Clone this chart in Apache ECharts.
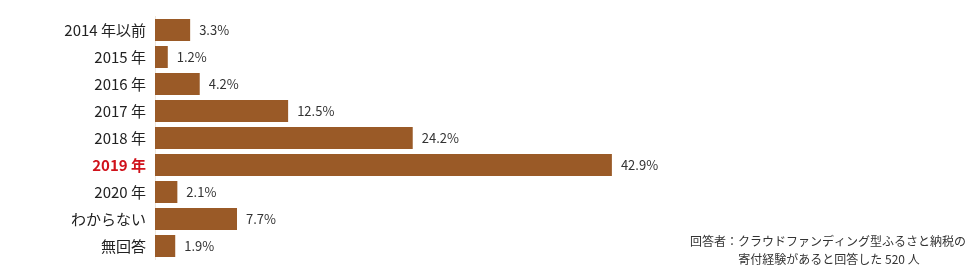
<!DOCTYPE html>
<html><head><meta charset="utf-8">
<script src="https://cdn.jsdelivr.net/npm/echarts@6/dist/echarts.min.js"></script>
<style>html,body{margin:0;padding:0;background:#fff}#c{width:980px;height:280px}</style>
</head><body><div id="c"></div>
<script>
const categories = ["2014 年以前","2015 年","2016 年","2017 年","2018 年","2019 年","2020 年","わからない","無回答"];
const values = [3.3,1.2,4.2,12.5,24.2,42.9,2.1,7.7,1.9];
const highlight = "2019 年";
const noteLines = ["回答者：クラウドファンディング型ふるさと納税の","寄付経験があると回答した 520 人"];

const chart = echarts.init(document.getElementById('c'));
chart.setOption({
  animation:false,
  textStyle:{fontFamily:'"Noto Sans CJK JP","Noto Sans",sans-serif'},
  grid:{left:155,right:79.5,top:16.5,bottom:20.5},
  xAxis:{type:'value',min:0,max:70,show:false},
  yAxis:{type:'category',data:categories,inverse:true,
    axisLine:{show:true,lineStyle:{color:'#eee6dc',width:1}},
    axisTick:{show:false},
    axisLabel:{margin:9,fontSize:15,color:'#222',
      formatter:v=> v===highlight ? '{h|'+v+'}' : v,
      rich:{h:{color:'#d0121b',fontWeight:'bold',fontSize:15}}}
  },
  series:[{type:'bar',data:values,barWidth:22,
    itemStyle:{color:'#9a5a27'},
    label:{show:true,position:'right',distance:9,fontSize:13,color:'#333',formatter:p=>p.value.toFixed(1)+'%'}
  }],
  graphic:[
    {type:'text',x:828,y:235,style:{text:noteLines[0],align:'center',fontSize:12,fill:'#333',fontFamily:'"Noto Sans CJK JP",sans-serif'}},
    {type:'text',x:829,y:253,style:{text:noteLines[1],align:'center',fontSize:12,fill:'#333',fontFamily:'"Noto Sans CJK JP",sans-serif'}}
  ]
});
</script></body></html>
